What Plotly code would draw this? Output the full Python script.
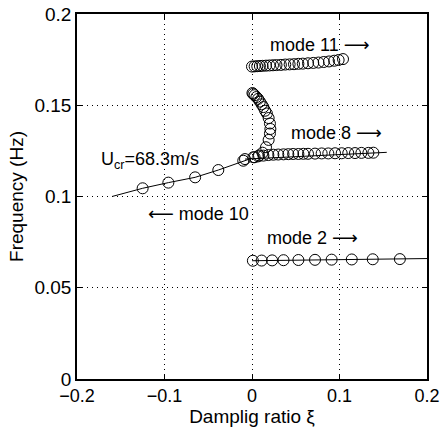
import plotly.graph_objects as go

# ---- data ----
mode2_x = [0.001, 0.011, 0.023, 0.036, 0.053, 0.072, 0.091, 0.114, 0.138, 0.169]
mode2_y = [0.0648, 0.0649, 0.0650, 0.0651, 0.0652, 0.0653, 0.0654, 0.0655, 0.0656, 0.0657]
mode2_line_x = [0.0, 0.2]
mode2_line_y = [0.0648, 0.0660]

mode8_x = [-0.008, 0.0015, 0.0072, 0.013, 0.0187, 0.0244, 0.030, 0.036, 0.0415, 0.047,
           0.053, 0.0587, 0.064, 0.072, 0.0796, 0.0872, 0.0949, 0.1025, 0.110, 0.1177,
           0.125, 0.133, 0.1387]
mode8_y = [0.1205, 0.1215, 0.1220, 0.1224, 0.1227, 0.1229, 0.1230, 0.1231, 0.1232, 0.1233,
           0.1233, 0.1234, 0.1234, 0.1235, 0.1236, 0.1236, 0.1237, 0.1237, 0.1238, 0.1238,
           0.1239, 0.1239, 0.1240]
mode8_line_x = [-0.008, 0.1387, 0.154]
mode8_line_y = [0.1205, 0.1240, 0.1242]

mode10_x = [-0.125, -0.0956, -0.065, -0.0385, -0.010]
mode10_y = [0.1045, 0.1076, 0.1105, 0.1145, 0.1196]
mode10_line_x = [-0.160, -0.125, -0.0956, -0.065, -0.0385, -0.010, 0.000]
mode10_line_y = [0.1000, 0.1045, 0.1076, 0.1105, 0.1145, 0.1196, 0.1210]

loop_x = [0.003, 0.008, 0.012, 0.016, 0.019, 0.0205, 0.021, 0.0205, 0.019, 0.017,
          0.015, 0.013, 0.011, 0.009, 0.007, 0.005, 0.003, 0.0015, 0.0005]
loop_y = [0.1215, 0.1225, 0.1240, 0.1270, 0.1310, 0.1345, 0.1370, 0.1400, 0.1430, 0.1455,
          0.1470, 0.1490, 0.1505, 0.1520, 0.1535, 0.1545, 0.1555, 0.1562, 0.1567]

mode11_x = [0.000, 0.003, 0.006, 0.009, 0.012, 0.016, 0.020, 0.024, 0.028, 0.033,
            0.038, 0.043, 0.048, 0.053, 0.058, 0.064, 0.070, 0.076, 0.082, 0.088,
            0.094, 0.099, 0.104]
mode11_y = [0.1712, 0.1713, 0.1714, 0.1715, 0.1716, 0.1717, 0.1718, 0.1719, 0.1720, 0.1721,
            0.1723, 0.1724, 0.1725, 0.1727, 0.1728, 0.1730, 0.1732, 0.1734, 0.1737, 0.1740,
            0.1744, 0.1748, 0.1753]

ARW_R = '<span style="font-family:DejaVu Sans">\u27f6</span>'
ARW_L = '<span style="font-family:DejaVu Sans">\u27f5</span>'
labels = ["mode 11 " + ARW_R, "mode 8 " + ARW_R, "mode 2 " + ARW_R, ARW_L + " mode 10",
          "U<sub>cr</sub>=68.3m/s"]
label_x = [0.078, 0.096, 0.0695, -0.061, -0.117]
label_y = [0.1835, 0.1350, 0.0775, 0.0905, 0.1195]

x_ticks = [-0.2, -0.1, 0, 0.1, 0.2]
y_ticks = [0, 0.05, 0.1, 0.15, 0.2]

FONT = "Liberation Sans, Arial, Helvetica, sans-serif"

fig = go.Figure()
line_style = dict(color="black", width=1)
marker_style = dict(symbol="circle-open", size=11, color="black", line=dict(width=1, color="black"))

for lx, ly in [(mode2_line_x, mode2_line_y), (mode8_line_x, mode8_line_y), (mode10_line_x, mode10_line_y)]:
    fig.add_trace(go.Scatter(x=lx, y=ly, mode="lines", line=line_style, hoverinfo="skip"))

for px, py in [(mode2_x, mode2_y), (mode8_x, mode8_y), (mode10_x, mode10_y),
               (loop_x, loop_y), (mode11_x, mode11_y)]:
    fig.add_trace(go.Scatter(x=px, y=py, mode="markers", marker=marker_style))

for t, ax_, ay_ in zip(labels, label_x, label_y):
    fig.add_annotation(x=ax_, y=ay_, text=t, showarrow=False, xanchor="center", yanchor="middle",
                       font=dict(family=FONT, size=18, color="black"))

axis_common = dict(
    showgrid=True, gridcolor="black", gridwidth=1, griddash="1px,4px",
    showline=True, linecolor="black", linewidth=1.5, mirror="ticks",
    ticks="inside", ticklen=5, tickcolor="black", tickwidth=1,
    zeroline=False, automargin=False,
)

fig.update_xaxes(range=[-0.2, 0.2], tickvals=x_ticks, ticktext=["\u22120.2", "\u22120.1", "0", "0.1", "0.2"],
                 tickfont=dict(family=FONT, size=18, color="black"),
                 title=dict(text="Damplig ratio \u03be", font=dict(family=FONT, size=19, color="black"), standoff=4),
                 **axis_common)
fig.update_yaxes(range=[0, 0.2], tickvals=y_ticks, ticktext=["0", "0.05", "0.1", "0.15", "0.2"],
                 tickfont=dict(family=FONT, size=19, color="black"),
                 title=dict(text="Frequency (Hz)", font=dict(family=FONT, size=19, color="black"), standoff=6),
                 **axis_common)

fig.update_layout(
    width=440, height=435,
    margin=dict(l=77, r=13, t=14, b=56, autoexpand=False),
    paper_bgcolor="white", plot_bgcolor="white",
    showlegend=False,
    font=dict(family=FONT, color="black"),
)

fig.write_html("out.html")
